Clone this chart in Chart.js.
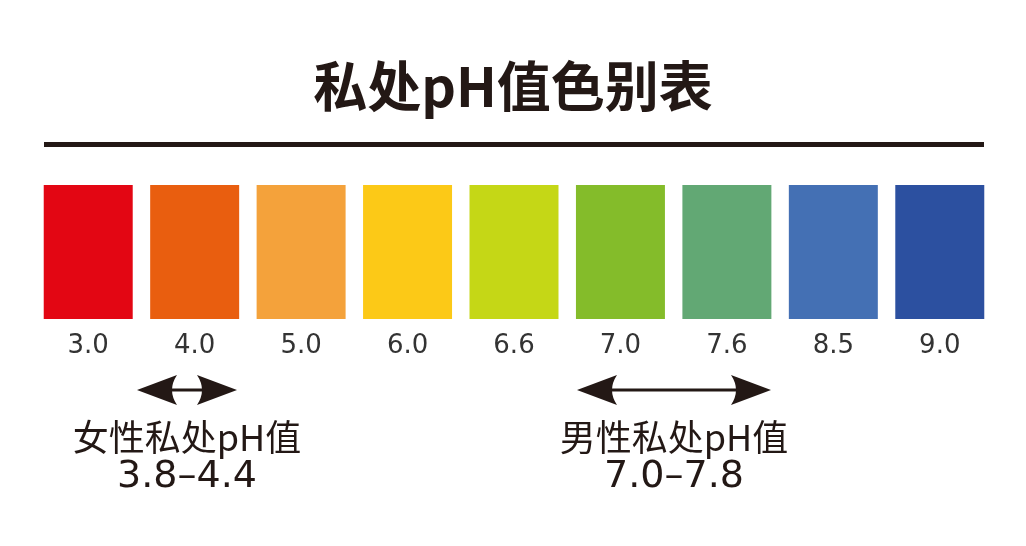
<!DOCTYPE html>
<html><head><meta charset="utf-8">
<script src="https://cdn.jsdelivr.net/npm/chart.js@4"></script>
<style>html,body{margin:0;background:#fff}#wrap{width:1026px;height:546px}</style>
</head><body><div id="wrap"><canvas id="c"></canvas></div>
<script>
// pH 色卡
const labels = ['3.0','4.0','5.0','6.0','6.6','7.0','7.6','8.5','9.0'];
const values = [1,1,1,1,1,1,1,1,1];
const colors = ['#E30613','#E95E0F','#F4A23B','#FCC917','#C5D716','#84BC2A','#62A874','#4470B4','#2C50A0'];
const ranges = [
  {name:'女性私处pH值', text:'3.8–4.4', x1:137, x2:237},
  {name:'男性私处pH值', text:'7.0–7.8', x1:577, x2:771}
];
const FONT = '"Noto Sans CJK SC", "Noto Sans", sans-serif';

function arrow(ctx, x1, x2, y) {
  ctx.strokeStyle = '#231815'; ctx.fillStyle = '#231815'; ctx.lineWidth = 3;
  ctx.beginPath(); ctx.moveTo(x1 + 20, y); ctx.lineTo(x2 - 20, y); ctx.stroke();
  [[x1, 1], [x2, -1]].forEach(([x, d]) => {
    ctx.beginPath();
    ctx.moveTo(x, y);
    ctx.lineTo(x + d * 40, y - 15);
    ctx.quadraticCurveTo(x + d * 30, y, x + d * 40, y + 15);
    ctx.closePath(); ctx.fill();
  });
}

const deco = {
  id: 'deco',
  afterDraw(chart) {
    const ctx = chart.ctx, xs = chart.scales.x;
    ctx.save();
    ctx.textAlign = 'center'; ctx.textBaseline = 'middle';
    ctx.fillStyle = '#231815';
    ctx.font = 'bold 54px ' + FONT;
    ctx.fillText('私处pH值色别表', 513, 86);
    ctx.fillRect(44, 142, 940, 5);
    ctx.fillStyle = '#333';
    ctx.font = '26px "DejaVu Sans", sans-serif';
    labels.forEach((l, i) => ctx.fillText(l, xs.getPixelForValue(i), 346));
    ranges.forEach(r => {
      arrow(ctx, r.x1, r.x2, 390);
      const cx = (r.x1 + r.x2) / 2;
      ctx.fillStyle = '#231815';
      ctx.font = '36px ' + FONT;
      ctx.fillText(r.name, cx, 437);
      ctx.font = '38px "DejaVu Sans", sans-serif';
      ctx.fillText(r.text, cx, 477);
    });
    ctx.restore();
  }
};

new Chart(document.getElementById('c'), {
  type: 'bar',
  data: { labels: labels, datasets: [{ data: values, backgroundColor: colors, barPercentage: 0.836, categoryPercentage: 1 }] },
  options: {
    responsive: true, maintainAspectRatio: false, animation: false,
    layout: { padding: { top: 185, bottom: 227, left: 35, right: 33 } },
    plugins: { legend: { display: false }, tooltip: { enabled: false } },
    scales: { x: { display: false }, y: { display: false, min: 0, max: 1 } }
  },
  plugins: [deco]
});
</script></body></html>
